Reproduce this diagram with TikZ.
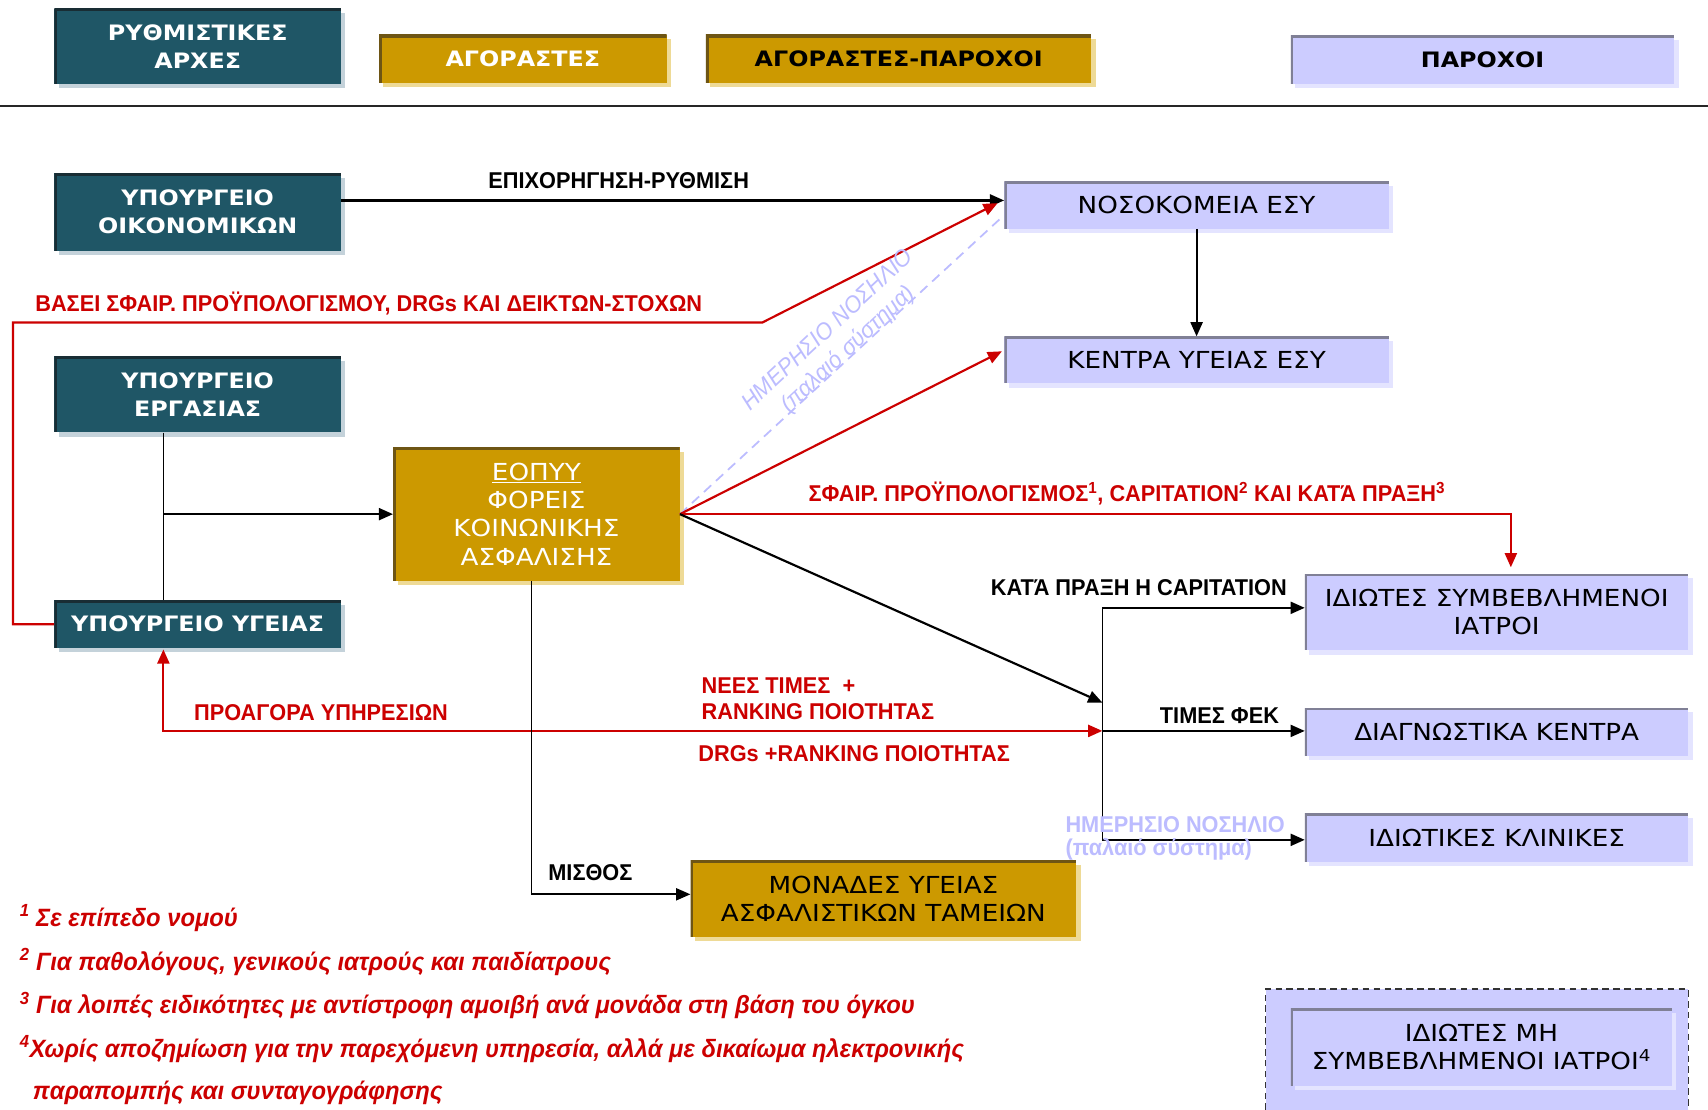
\documentclass[tikz,border=0pt]{standalone}
\usepackage{fontspec}
\setmainfont{DejaVu Sans}
\newfontfamily\boxfont[FakeStretch=1.12]{DejaVu Sans}
\newfontfamily\labfont[FakeStretch=0.95]{Liberation Sans}
\usetikzlibrary{arrows.meta,shadows}
\definecolor{tealbox}{RGB}{31,86,102}
\definecolor{tealedge}{RGB}{25,45,52}
\definecolor{tealshadow}{RGB}{196,210,218}
\definecolor{goldbox}{RGB}{204,153,0}
\definecolor{goldedge}{RGB}{110,85,20}
\definecolor{goldshadow}{RGB}{238,218,150}
\definecolor{lavbox}{RGB}{204,204,255}
\definecolor{lavedge}{RGB}{128,128,150}
\definecolor{lavshadow}{RGB}{228,228,255}
\definecolor{redc}{RGB}{204,0,0}
\definecolor{lavtext}{RGB}{188,188,255}
\tikzset{
  boxbase/.style={inner sep=2pt, align=center},
  tealbx/.style={boxbase, fill=tealbox, text=white,
    drop shadow={shadow xshift=4pt, shadow yshift=-4pt, fill=tealshadow, opacity=1},
    path picture={\draw[tealedge, line width=5pt] (path picture bounding box.south west) -- (path picture bounding box.north west) -- (path picture bounding box.north east);},
    font=\boxfont\bfseries\fontsize{19.5}{26}\selectfont},
  goldbx/.style={boxbase, fill=goldbox,
    drop shadow={shadow xshift=4pt, shadow yshift=-4pt, fill=goldshadow, opacity=1},
    path picture={\draw[goldedge, line width=5pt] (path picture bounding box.south west) -- (path picture bounding box.north west) -- (path picture bounding box.north east);},
    font=\boxfont\fontsize{21.5}{26}\selectfont},
  lavbx/.style={boxbase, fill=lavbox, text=black,
    drop shadow={shadow xshift=4pt, shadow yshift=-4pt, fill=lavshadow, opacity=1},
    path picture={\draw[lavedge, line width=4pt] (path picture bounding box.south west) -- (path picture bounding box.north west) -- (path picture bounding box.north east);},
    font=\boxfont\fontsize{21.5}{26}\selectfont},
  hdr/.style={font=\boxfont\bfseries\fontsize{19.5}{26}\selectfont},
  lab/.style={inner sep=0pt, font=\labfont\bfseries\fontsize{21}{25}\selectfont},
  redlab/.style={lab, text=redc},
  lavlab/.style={lab, text=lavtext},
  foot/.style={inner sep=0pt, anchor=west, text=redc, font=\labfont\bfseries\itshape\fontsize{23}{27}\selectfont},
  rotlab/.style={inner sep=0pt, text=lavtext, rotate=43, font=\labfont\itshape\fontsize{21.5}{25}\selectfont},
  blk/.style={draw=black, line width=2pt, -{Triangle[length=13pt,width=11pt]}},
  redl/.style={draw=redc, line width=2pt, -{Triangle[length=13pt,width=11pt]}},
  plain/.style={draw=black, line width=1.5pt},
}
\begin{document}
\begin{tikzpicture}[x=1pt,y=-1pt]
\useasboundingbox (0,0) rectangle (1568,1019);
\fill[white] (0,0) rectangle (1568,1019);

% header
\node[tealbx, minimum width=263pt, minimum height=69pt] (rythm) at (181.5,42.5) {ΡΥΘΜΙΣΤΙΚΕΣ\\ΑΡΧΕΣ};
\node[goldbx, hdr, text=white, minimum width=264pt, minimum height=44pt] (agor) at (480,54) {ΑΓΟΡΑΣΤΕΣ};
\node[goldbx, hdr, text=black, minimum width=354pt, minimum height=44pt] (agorpar) at (825,54) {ΑΓΟΡΑΣΤΕΣ-ΠΑΡΟΧΟΙ};
\node[lavbx, hdr, minimum width=352pt, minimum height=44pt] (paroxoi) at (1361,55) {ΠΑΡΟΧΟΙ};
\coordinate (hl) at (0,97);
\coordinate (hr) at (1568,97);
\draw[line width=1.6pt, black!85] (hl) -- (hr);

% main boxes
\node[tealbx, minimum width=263pt, minimum height=71pt] (oik) at (181.5,194.5) {ΥΠΟΥΡΓΕΙΟ\\ΟΙΚΟΝΟΜΙΚΩΝ};
\node[tealbx, minimum width=263pt, minimum height=70pt] (erg) at (181.5,362) {ΥΠΟΥΡΓΕΙΟ\\ΕΡΓΑΣΙΑΣ};
\node[tealbx, minimum width=263pt, minimum height=44pt] (ygeias) at (181.5,573) {ΥΠΟΥΡΓΕΙΟ ΥΓΕΙΑΣ};
\node[goldbx, text=white, minimum width=263pt, minimum height=123pt] (eopyy) at (492.5,472) {\underline{ΕΟΠΥΥ}\\ΦΟΡΕΙΣ\\ΚΟΙΝΩΝΙΚΗΣ\\ΑΣΦΑΛΙΣΗΣ};
\node[lavbx, minimum width=353pt, minimum height=43pt] (nosok) at (1098.5,188.5) {ΝΟΣΟΚΟΜΕΙΑ ΕΣΥ};
\node[lavbx, minimum width=353pt, minimum height=43pt] (kentra) at (1098.5,330.5) {ΚΕΝΤΡΑ ΥΓΕΙΑΣ ΕΣΥ};
\node[lavbx, minimum width=352pt, minimum height=70pt] (idiotes) at (1374,562) {ΙΔΙΩΤΕΣ ΣΥΜΒΕΒΛΗΜΕΝΟΙ\\ΙΑΤΡΟΙ};
\node[lavbx, minimum width=352pt, minimum height=44pt] (diagn) at (1374,672) {ΔΙΑΓΝΩΣΤΙΚΑ ΚΕΝΤΡΑ};
\node[lavbx, minimum width=352pt, minimum height=44pt] (klinikes) at (1374,769) {ΙΔΙΩΤΙΚΕΣ ΚΛΙΝΙΚΕΣ};
\node[goldbx, text=black, minimum width=354pt, minimum height=70pt] (monades) at (811,825) {ΜΟΝΑΔΕΣ ΥΓΕΙΑΣ\\ΑΣΦΑΛΙΣΤΙΚΩΝ ΤΑΜΕΙΩΝ};

% dashed outer box
\fill[lavbox] (1162,908) rectangle (1550,1019);
\draw[black!80, line width=1.2pt, dash pattern=on 6pt off 4pt] (1162,1019) -- (1162,908) -- (1550,908) -- (1550,1019);
\node[lavbx, minimum width=350pt, minimum height=71pt] (mhsymb) at (1360,961.5) {ΙΔΙΩΤΕΣ ΜΗ\\ΣΥΜΒΕΒΛΗΜΕΝΟΙ ΙΑΤΡΟΙ\textsuperscript{4}};

% coordinates
\coordinate (vx) at (150,0);
\coordinate (bus1) at (1012,558);
\coordinate (busin) at (1012,645);
\coordinate (bus2) at (1012,671);
\coordinate (bus3) at (1012,771);
\coordinate (redbend1) at (12,296);
\coordinate (redbend2) at (700,296);

% connectors
\draw[blk] ([yshift=10.5pt]oik.east) -- ([yshift=10.5pt]oik.east -| nosok.west);
\draw[redl] (ygeias.west) -| (redbend1) -- (redbend2) -- ([xshift=-6pt,yshift=2pt]nosok.west);
\draw[blk] (nosok.south) -- (kentra.north);
\draw[lavtext, line width=1.6pt, dash pattern=on 9pt off 6pt] (eopyy.east) -- ([yshift=-9pt]nosok.west);
\draw[redl] (eopyy.east) -- ([xshift=-2pt,yshift=8pt]kentra.west);
\draw[redl] (eopyy.east) -| ([xshift=13pt,yshift=6pt]idiotes.north);
\draw[blk] (eopyy.east) -- (busin);
\draw[plain] (erg.south -| vx) -- (ygeias.north -| vx);
\draw[blk] (vx |- eopyy.west) -- (eopyy.west);
\draw[plain] (bus1) -- (bus3);
\draw[blk] (bus1) -- (bus1 -| idiotes.west);
\draw[blk] (bus2) -- (bus2 -| diagn.west);
\draw[blk] (bus3) -- (bus3 -| klinikes.west);
\draw[redl, {Triangle[length=13pt,width=11pt]}-{Triangle[length=13pt,width=11pt]}] ([yshift=-1pt]ygeias.south -| vx) |- (bus2);
\draw[plain, -{Triangle[length=13pt,width=11pt]}] ([xshift=-4.5pt]eopyy.south) |- ([yshift=4pt]monades.west);

% labels
\node[lab] (l1) at (568,166) {ΕΠΙΧΟΡΗΓΗΣΗ-ΡΥΘΜΙΣΗ};
\node[redlab] (l2) at (338.5,279) {ΒΑΣΕΙ ΣΦΑΙΡ. ΠΡΟΫΠΟΛΟΓΙΣΜΟΥ, DRGs ΚΑΙ ΔΕΙΚΤΩΝ-ΣΤΟΧΩΝ};
\node[redlab] (l3) at (1034.5,453) {ΣΦΑΙΡ. ΠΡΟΫΠΟΛΟΓΙΣΜΟΣ\textsuperscript{1}, CAPITATION\textsuperscript{2} ΚΑΙ ΚΑΤΆ ΠΡΑΞΗ\textsuperscript{3}};
\node[lab] (l4) at (1045.5,539) {ΚΑΤΆ ΠΡΑΞΗ Η CAPITATION};
\node[lab] (l5) at (1119.5,657) {ΤΙΜΕΣ ΦΕΚ};
\node[lavlab, anchor=west] (l6a) at (978,757) {ΗΜΕΡΗΣΙΟ ΝΟΣΗΛΙΟ};
\node[lavlab, anchor=west] (l6b) at (978,780) {(παλαιό σύστημα)};
\node[redlab, anchor=west] (l7) at (178,654) {ΠΡΟΑΓΟΡΑ ΥΠΗΡΕΣΙΩΝ};
\node[redlab, anchor=west] (l8a) at (644,629) {ΝΕΕΣ ΤΙΜΕΣ \ +};
\node[redlab, anchor=west] (l8b) at (644,653) {RANKING ΠΟΙΟΤΗΤΑΣ};
\node[redlab, anchor=west] (l9) at (641,692) {DRGs +RANKING ΠΟΙΟΤΗΤΑΣ};
\node[lab] (l10) at (542,801) {ΜΙΣΘΟΣ};
\node[rotlab] (l11a) at (759,302) {ΗΜΕΡΗΣΙΟ ΝΟΣΗΛΙΟ};
\node[rotlab] (l11b) at (779,321) {(παλαιό σύστημα)};

% footnotes
\node[foot] (f1) at (18,843) {\textsuperscript{1} Σε επίπεδο νομού};
\node[foot] (f2) at (18,883) {\textsuperscript{2} Για παθολόγους, γενικούς ιατρούς και παιδίατρους};
\node[foot] (f3) at (18,923) {\textsuperscript{3} Για λοιπές ειδικότητες με αντίστροφη αμοιβή ανά μονάδα στη βάση του όγκου};
\node[foot] (f4) at (18,963) {\textsuperscript{4}Χωρίς αποζημίωση για την παρεχόμενη υπηρεσία, αλλά με δικαίωμα ηλεκτρονικής};
\node[foot] (f5) at (30,1003) {παραπομπής και συνταγογράφησης};
\end{tikzpicture}
\end{document}
